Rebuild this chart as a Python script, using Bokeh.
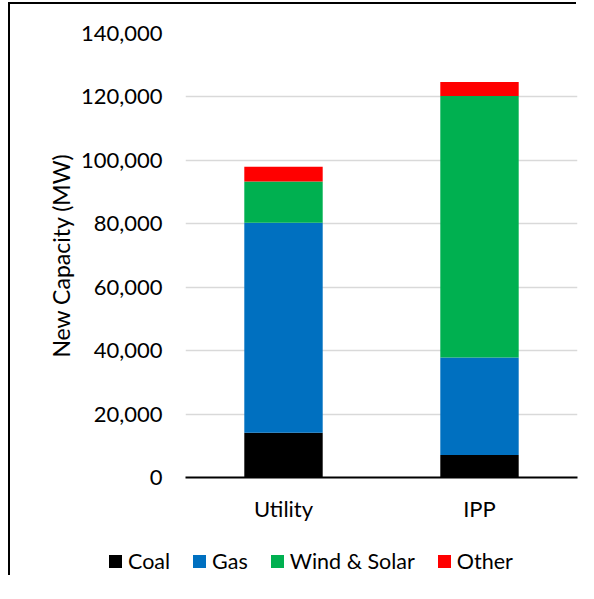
from bokeh.plotting import figure
from bokeh.layouts import column
from bokeh.models import (FactorRange, Range1d, FixedTicker, NumeralTickFormatter,
                          ColumnDataSource, Div)
from bokeh.embed import file_html
from bokeh.resources import INLINE

categories = ["Utility", "IPP"]
series = ["Coal", "Gas", "Wind & Solar", "Other"]
coal = [14100, 7100]
gas = [66200, 30700]
wind_solar = [13000, 82500]
other = [4700, 4400]
y_ticks = [0, 20000, 40000, 60000, 80000, 100000, 120000, 140000]
colors = ["#000000", "#0070C0", "#00B050", "#FF0000"]

FONT = "Lato"

source = ColumnDataSource(data={"cat": categories, "Coal": coal, "Gas": gas,
                                "Wind & Solar": wind_solar, "Other": other})

p = figure(x_range=FactorRange(*categories, range_padding=0),
           y_range=Range1d(0, 140000),
           width=568, height=521, output_backend="svg", toolbar_location=None,
           min_border_left=175, min_border_right=1, min_border_top=29,
           min_border_bottom=48)

p.vbar_stack(series, x="cat", width=0.4, color=colors, line_color=None, source=source)

p.outline_line_color = None
p.xgrid.grid_line_color = None
p.ygrid.grid_line_color = "#d9d9d9"
p.ygrid.grid_line_width = 1.5

p.yaxis.ticker = FixedTicker(ticks=y_ticks)
p.yaxis.formatter = NumeralTickFormatter(format="0,0")
p.yaxis.axis_line_color = None
p.yaxis.major_tick_line_color = None
p.yaxis.minor_tick_line_color = None
p.yaxis.major_label_standoff = 17
p.yaxis.major_label_text_font = FONT
p.yaxis.major_label_text_font_size = "22px"
p.yaxis.major_label_text_color = "#000000"
p.yaxis.axis_label = "New Capacity (MW)"
p.yaxis.axis_label_text_font = FONT
p.yaxis.axis_label_text_font_size = "23px"
p.yaxis.axis_label_text_font_style = "normal"
p.yaxis.axis_label_text_color = "#000000"
p.yaxis.axis_label_standoff = 3

p.xaxis.axis_line_color = "#000000"
p.xaxis.axis_line_width = 2
p.xaxis.major_tick_line_color = None
p.xaxis.minor_tick_line_color = None
p.xaxis.major_label_standoff = 11
p.xaxis.major_label_text_font = FONT
p.xaxis.major_label_text_font_size = "22px"
p.xaxis.major_label_text_color = "#000000"

# legend row (HTML), built from the series names and colours
items_html = "".join(
    f'<span style="display:inline-flex;align-items:center;margin-right:23px;">'
    f'<span style="display:inline-block;width:13px;height:13px;background:{c};'
    f'margin-right:6px;"></span>{s.replace("&", "&amp;")}</span>'
    for s, c in zip(series, colors)
)
legend_div = Div(
    text=f'<div style="display:flex;align-items:center;padding-left:99px;padding-top:24px;'
         f'font-family:Lato;font-size:21.5px;line-height:25px;color:#000000;white-space:nowrap;">'
         f'{items_html}</div>',
    width=568, height=52, margin=0)

layout = column(p, legend_div, spacing=0, margin=(4, 0, 0, 10),
                styles={"box-shadow": "-2px -2px 0 0 #000000", "overflow": "hidden"})

open("out.html", "w").write(file_html(layout, INLINE))
